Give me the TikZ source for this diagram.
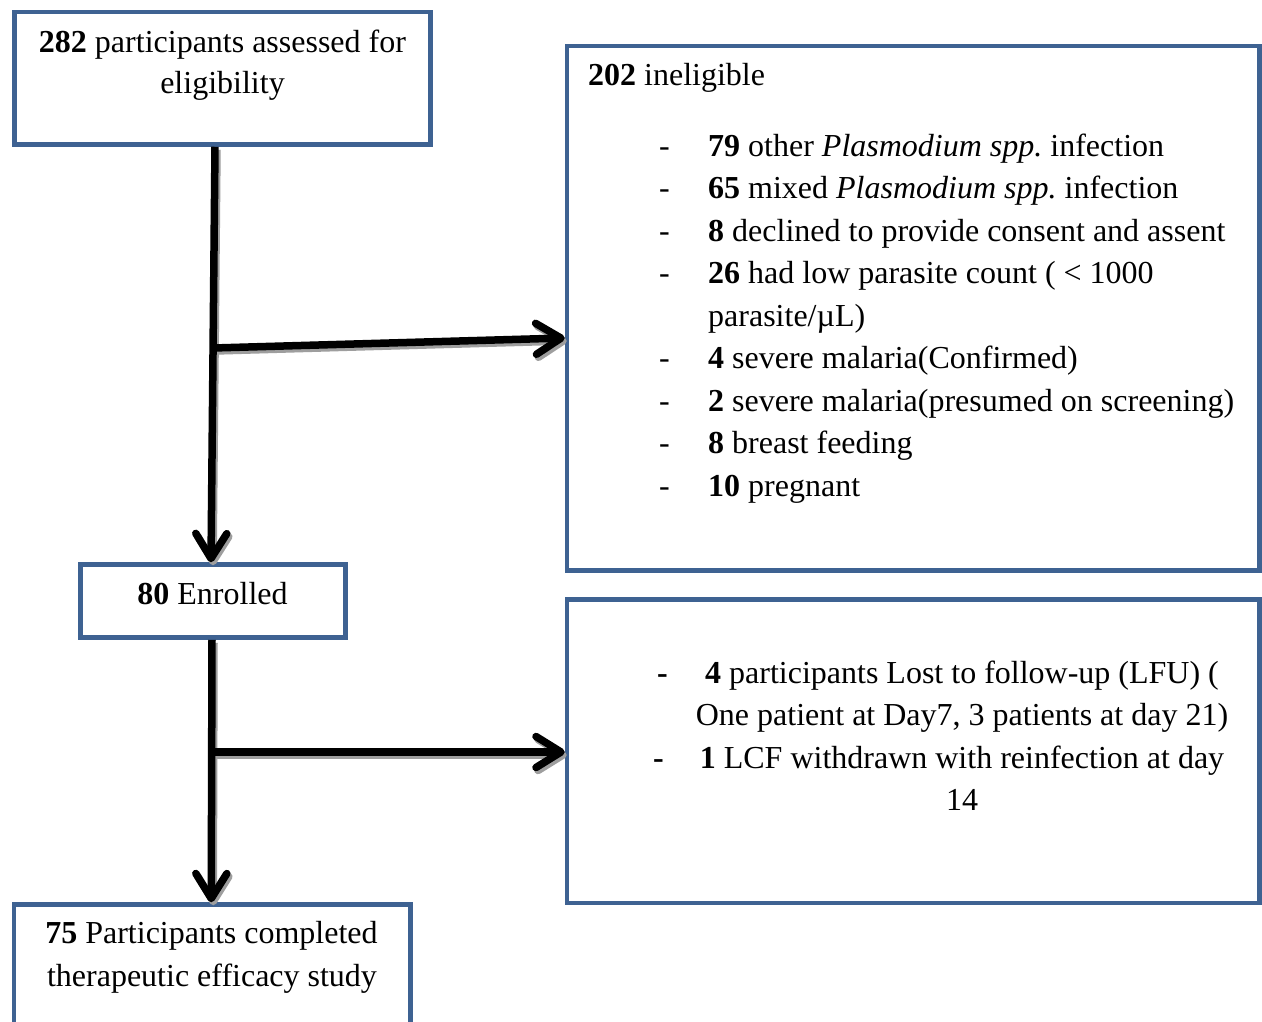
\documentclass[tikz,border=0pt]{standalone}
\usepackage{fontspec}
\setmainfont{Liberation Serif}
\usetikzlibrary{arrows.meta,calc}
\definecolor{boxblue}{HTML}{3E6292}
\definecolor{shadowgray}{HTML}{9E9E9E}
\frenchspacing
\begin{document}
\begin{tikzpicture}[x=1pt,y=-1pt,
  box/.style={draw=boxblue, line width=4.5pt, rectangle, inner sep=0pt, fill=white},
  txt/.style={inner sep=0pt, font=\fontsize{32}{42.5}\selectfont},
  conn/.style={line width=7.5pt, -{Straight Barb[length=25pt,width=31pt,round]}},
  connshadow/.style={conn, draw=shadowgray, transform canvas={shift={(2pt,-3pt)}}},
  connmain/.style={conn, draw=black}
]
\useasboundingbox (0,0) rectangle (1262,1021);
\fill[white] (0,0) rectangle (1262,1021);
\clip (0,0) rectangle (1262,1021);

% boxes
\node[box, minimum width=416pt, minimum height=132.5pt] (A) at (222.5,78.25) {};
\node[box, minimum width=692.5pt, minimum height=524.5pt] (B) at (913.25,308.25) {};
\node[box, minimum width=265pt, minimum height=73pt] (C) at (213,601) {};
\node[box, minimum width=692.5pt, minimum height=303.5pt] (D) at (913.25,751.25) {};
\node[box, minimum width=396.5pt, minimum height=140.5pt] (E) at (212.25,974.75) {};

% junctions
\coordinate (j1) at (213,348);
\coordinate (j2) at (212,752);

% connectors (shadow, then main)
\foreach \st in {connshadow, connmain} {
  \draw[\st] ([xshift=-7.5pt]A.south) -- ([xshift=-2pt]C.north);
  \draw[\st] (j1) -- ([yshift=-29.75pt]B.west);
  \draw[\st] ([xshift=-1pt]C.south) -- ([xshift=-1pt]E.north);
  \draw[\st] (j2) -- ([yshift=-0.75pt]D.west);
}

% texts box A
\node[txt, anchor=base] (tA1) at (222.5,52) {\textbf{282} participants assessed for};
\node[txt, anchor=base] (tA2) at (222.5,93) {eligibility};

% box B
\node[txt, anchor=base west] (tB0) at (588,85) {\textbf{202} ineligible};
\foreach \i/\y/\t/\d in {
  1/156/{\textbf{79} other \textit{Plasmodium spp.} infection}/1,
  2/198.5/{\textbf{65} mixed \textit{Plasmodium spp.} infection}/1,
  3/241/{\textbf{8} declined to provide consent and assent}/1,
  4/283.5/{\textbf{26} had low parasite count ( < 1000}/1,
  5/326/{parasite/µL)}/0,
  6/368.5/{\textbf{4} severe malaria(Confirmed)}/1,
  7/411/{\textbf{2} severe malaria(presumed on screening)}/1,
  8/453.5/{\textbf{8} breast feeding}/1,
  9/496/{\textbf{10} pregnant}/1} {
  \node[txt, anchor=base west] (tB\i) at (708,\y) {\t};
  \ifnum\d=1
    \node[txt, anchor=base west] (dB\i) at (659,\y) {-};
  \fi
}

% box C
\node[txt, anchor=base] (tC) at (212.5,604) {\textbf{80} Enrolled};

% box D
\node[txt, anchor=base] (tD1) at (962,683) {\textbf{4} participants Lost to follow-up (LFU) (};
\node[txt, anchor=base] (tD2) at (962,725.5) {One patient at Day7, 3 patients at day 21)};
\node[txt, anchor=base] (tD3) at (962,768) {\textbf{1} LCF withdrawn with reinfection at day};
\node[txt, anchor=base] (tD4) at (962,810.5) {14};
\node[txt, anchor=base west] (dD1) at (657,683) {\textbf{-}};
\node[txt, anchor=base west] (dD3) at (653,768) {\textbf{-}};

% box E
\node[txt, anchor=base] (tE1) at (211.5,943) {\textbf{75} Participants completed};
\node[txt, anchor=base] (tE2) at (212,986) {therapeutic efficacy study};
\end{tikzpicture}
\end{document}
